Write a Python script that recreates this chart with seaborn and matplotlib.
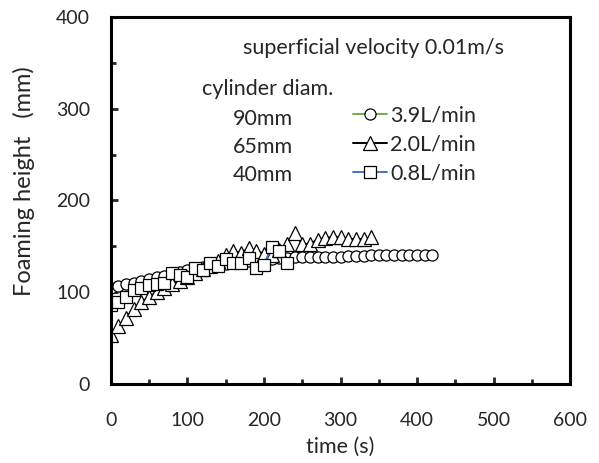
import numpy as np
import pandas as pd
import matplotlib
matplotlib.use("Agg")
import matplotlib.pyplot as plt
import seaborn as sns

# --- data ---
# 90 mm cylinder, 3.9 L/min (circles), every 10 s up to 420 s
t_circle = list(range(0, 430, 10))
h_circle = [105, 107, 109, 110, 112, 114, 116, 118, 120, 122,
            124, 126, 127, 129, 130, 131, 132, 133, 134, 135,
            136, 136, 137, 137, 138, 138, 138, 138, 138, 138,
            138, 139, 139, 139, 140, 140, 140, 141, 141, 141,
            141, 141, 141]

# 65 mm cylinder, 2.0 L/min (triangles), up to 340 s
t_tri = list(range(0, 350, 10))
h_tri = [53, 63, 72, 82, 89, 95, 100, 105, 109, 112,
         117, 121, 125, 129, 134, 140, 145, 143, 148, 145,
         142, 140, 146, 153, 165, 152, 153, 157, 159, 160,
         160, 158, 158, 158, 160]

# 40 mm cylinder, 0.8 L/min (squares), up to 230 s
t_sq = list(range(0, 240, 10))
h_sq = [86, 89, 95, 102, 105, 108, 109, 110, 121, 119,
        117, 126, 124, 132, 128, 136, 132, 132, 137, 126,
        130, 149, 145, 132]

labels = ["3.9L/min", "2.0L/min", "0.8L/min"]
diams = ["90mm", "65mm", "40mm"]
line_colors = ["#70AD47", "black", "#4472C4"]
markers = ["o", "^", "s"]
msizes = [8, 9.5, 8.5]

# --- style ---
sns.set_style("ticks")
plt.rcParams["font.family"] = ["Lato", "DejaVu Sans"]
fs = 15.5

fig = plt.figure(figsize=(5.99, 4.63), dpi=100)
ax = fig.add_axes([0.185, 0.171, 0.767, 0.792])

series = [(t_circle, h_circle), (t_tri, h_tri), (t_sq, h_sq)]
for (t, h), lab, col, mk, ms in zip(series, labels, line_colors, markers, msizes):
    sns.lineplot(x=t, y=h, ax=ax, color=col, linewidth=1.4, label=lab,
                 marker=mk, markersize=ms, markerfacecolor="white",
                 markeredgecolor="black", markeredgewidth=0.9)

ax.set_xlim(0, 600)
ax.set_ylim(0, 400)
ax.set_xticks(range(0, 700, 100))
ax.set_yticks(range(0, 500, 100))
ax.set_xticks(range(0, 650, 50), minor=True)
ax.set_yticks(range(0, 450, 50), minor=True)
ax.tick_params(which="both", direction="in", width=2.0, labelsize=14,
               top=False, right=False)
ax.tick_params(which="major", length=5)
ax.tick_params(which="minor", length=3.5)
ax.tick_params(axis="x", which="major", pad=20)
ax.tick_params(axis="y", which="major", pad=15)
for s in ax.spines.values():
    s.set_linewidth(2.2)
    s.set_color("black")

ax.set_xlabel("time (s)", fontsize=fs, labelpad=6)
ax.set_ylabel("Foaming height   (mm)", fontsize=17)
ax.yaxis.set_label_coords(-0.166, 0.553)

# annotations
ax.text(0.288, 0.915, "superficial velocity 0.01m/s", transform=ax.transAxes,
        fontsize=fs, va="center", ha="left")
ax.text(0.198, 0.803, "cylinder diam.", transform=ax.transAxes,
        fontsize=fs, va="center", ha="left")
for d, yy in zip(diams, [0.722, 0.646, 0.570]):
    ax.text(0.266, yy, d, transform=ax.transAxes, fontsize=fs,
            va="center", ha="left")

ax.legend(loc="upper left", bbox_to_anchor=(0.527, 0.760), frameon=False,
          handlelength=1.58, handletextpad=0.14, labelspacing=0.42,
          fontsize=fs, borderaxespad=0, borderpad=0)

fig.savefig("out.png", dpi=100)
